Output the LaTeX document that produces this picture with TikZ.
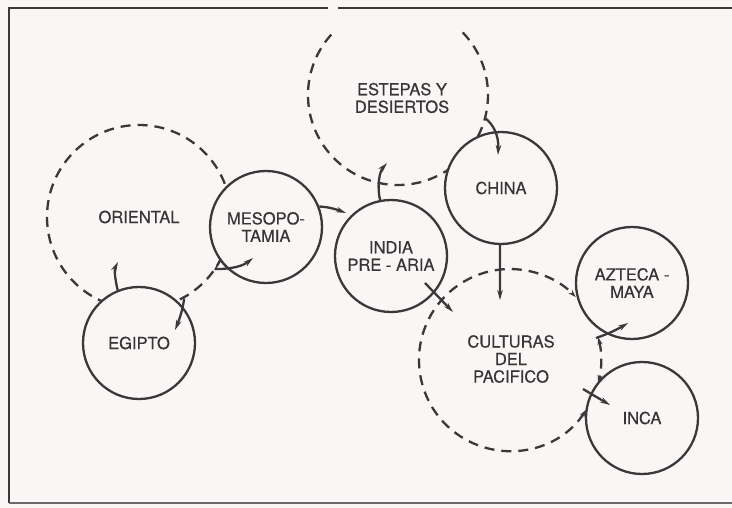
\documentclass[tikz,border=0pt]{standalone}
\usepackage{fontspec}
\setmainfont{TeX Gyre Heros}
\usetikzlibrary{arrows.meta}
\definecolor{bg}{RGB}{249,246,245}
\definecolor{ink}{RGB}{58,56,56}
\definecolor{txt}{RGB}{55,53,53}
\newcommand{\mylbl}{\fontsize{16.5}{17.5}\selectfont\addfontfeatures{FakeBold=0.45}}
\begin{document}
\begin{tikzpicture}[x=1pt,y=-1pt,
  ln/.style={draw=ink,line width=2.3pt},
  dsh/.style={ln,dash pattern=on 10pt off 7pt},
  lab/.style={align=center,text=txt,font=\mylbl,inner sep=0pt},
  culture/.style={circle,ln,fill=bg,minimum size=112pt,inner sep=0pt,lab},
  region/.style={circle,dsh,inner sep=0pt,lab},
  infl/.style={ln,-{Stealth[length=10pt,width=5.5pt]}},
  entry/.style={dsh,{Stealth[length=8pt,width=5pt]}-{Stealth[length=8pt,width=5pt]}}]
\fill[bg] (0,0) rectangle (732,508);
\useasboundingbox (0,0) rectangle (732,508);
% frame
\draw[ink,line width=2.2pt] (732,8) -- (338,8);
\draw[ink,line width=2.2pt] (328,8) -- (9,8) -- (9,503);
\draw[ink!75,line width=1.6pt] (9,503) -- (732,503);
% regions (dashed)
\node[region,minimum size=184pt] (oriental) at (139,217) {ORIENTAL};
\node[lab] (estepas) at (402,98) {ESTEPAS Y\\DESIERTOS};
\draw[dsh] (398,95) ++(-44:90) arc[start angle=-44,end angle=224,radius=90];
\node[lab] (pacifico) at (511,359) {CULTURAS\\DEL\\PACIFICO};
% cultures (solid)
\node[culture] (egipto) at (139,343) {EGIPTO};
\node[culture] (meso) at (266,227) {MESOPO-\\TAMIA};
\node[culture] (india) at (391,256) {INDIA\\PRE - ARIA};
\node[culture] (china) at (501,188) {CHINA};
\node[culture] (azteca) at (632,283) {AZTECA -\\MAYA};
\node[culture] (inca) at (642,418) {INCA};
% Pacific region arcs entering the circles
\draw[entry] (586.3,409.6) arc[start angle=33,end angle=316.3,radius=91];
\draw[entry] (598.1,337.1) arc[start angle=-14.6,end angle=14.6,radius=91];
% open mark where Oriental meets Mesopotamia
\draw[ink,line width=1.7pt,line join=round] (215,270) -- (220,260) -- (228,269);
% influence arrows
\coordinate (t1) at (118,262);
\coordinate (t2) at (175,330);
\coordinate (t3) at (253,258);
\coordinate (t4) at (346,213);
\coordinate (t5) at (387,163);
\coordinate (s6) at (485,118);
\coordinate (t6) at (498,155);
\coordinate (t7) at (500,300);
\coordinate (s8) at (425,283);
\coordinate (t8) at (453,312);
\coordinate (s9) at (596,338);
\coordinate (t9) at (628,323);
\coordinate (s10) at (583,389);
\coordinate (t10) at (610,405);
\draw[infl] (egipto.112) .. controls (115,278) and (114,270) .. (t1);
\draw[infl] (oriental.-61) .. controls (183,308) and (180,318) .. (t2);
\draw[infl] (oriental.-34) .. controls (232,269) and (243,266) .. (t3);
\draw[infl] (meso.21) .. controls (330,207) and (338,210) .. (t4);
\draw[infl] (india.101) .. controls (377,188) and (379,172) .. (t5);
\draw[infl] (s6) .. controls (493,124) and (499,135) .. (t6);
\draw[infl] (china.-91) -- (t7);
\draw[infl] (s8) -- (t8);
\draw[infl] (s9) .. controls (608,334) and (618,329) .. (t9);
\draw[infl] (s10) -- (t10);
\end{tikzpicture}
\end{document}
